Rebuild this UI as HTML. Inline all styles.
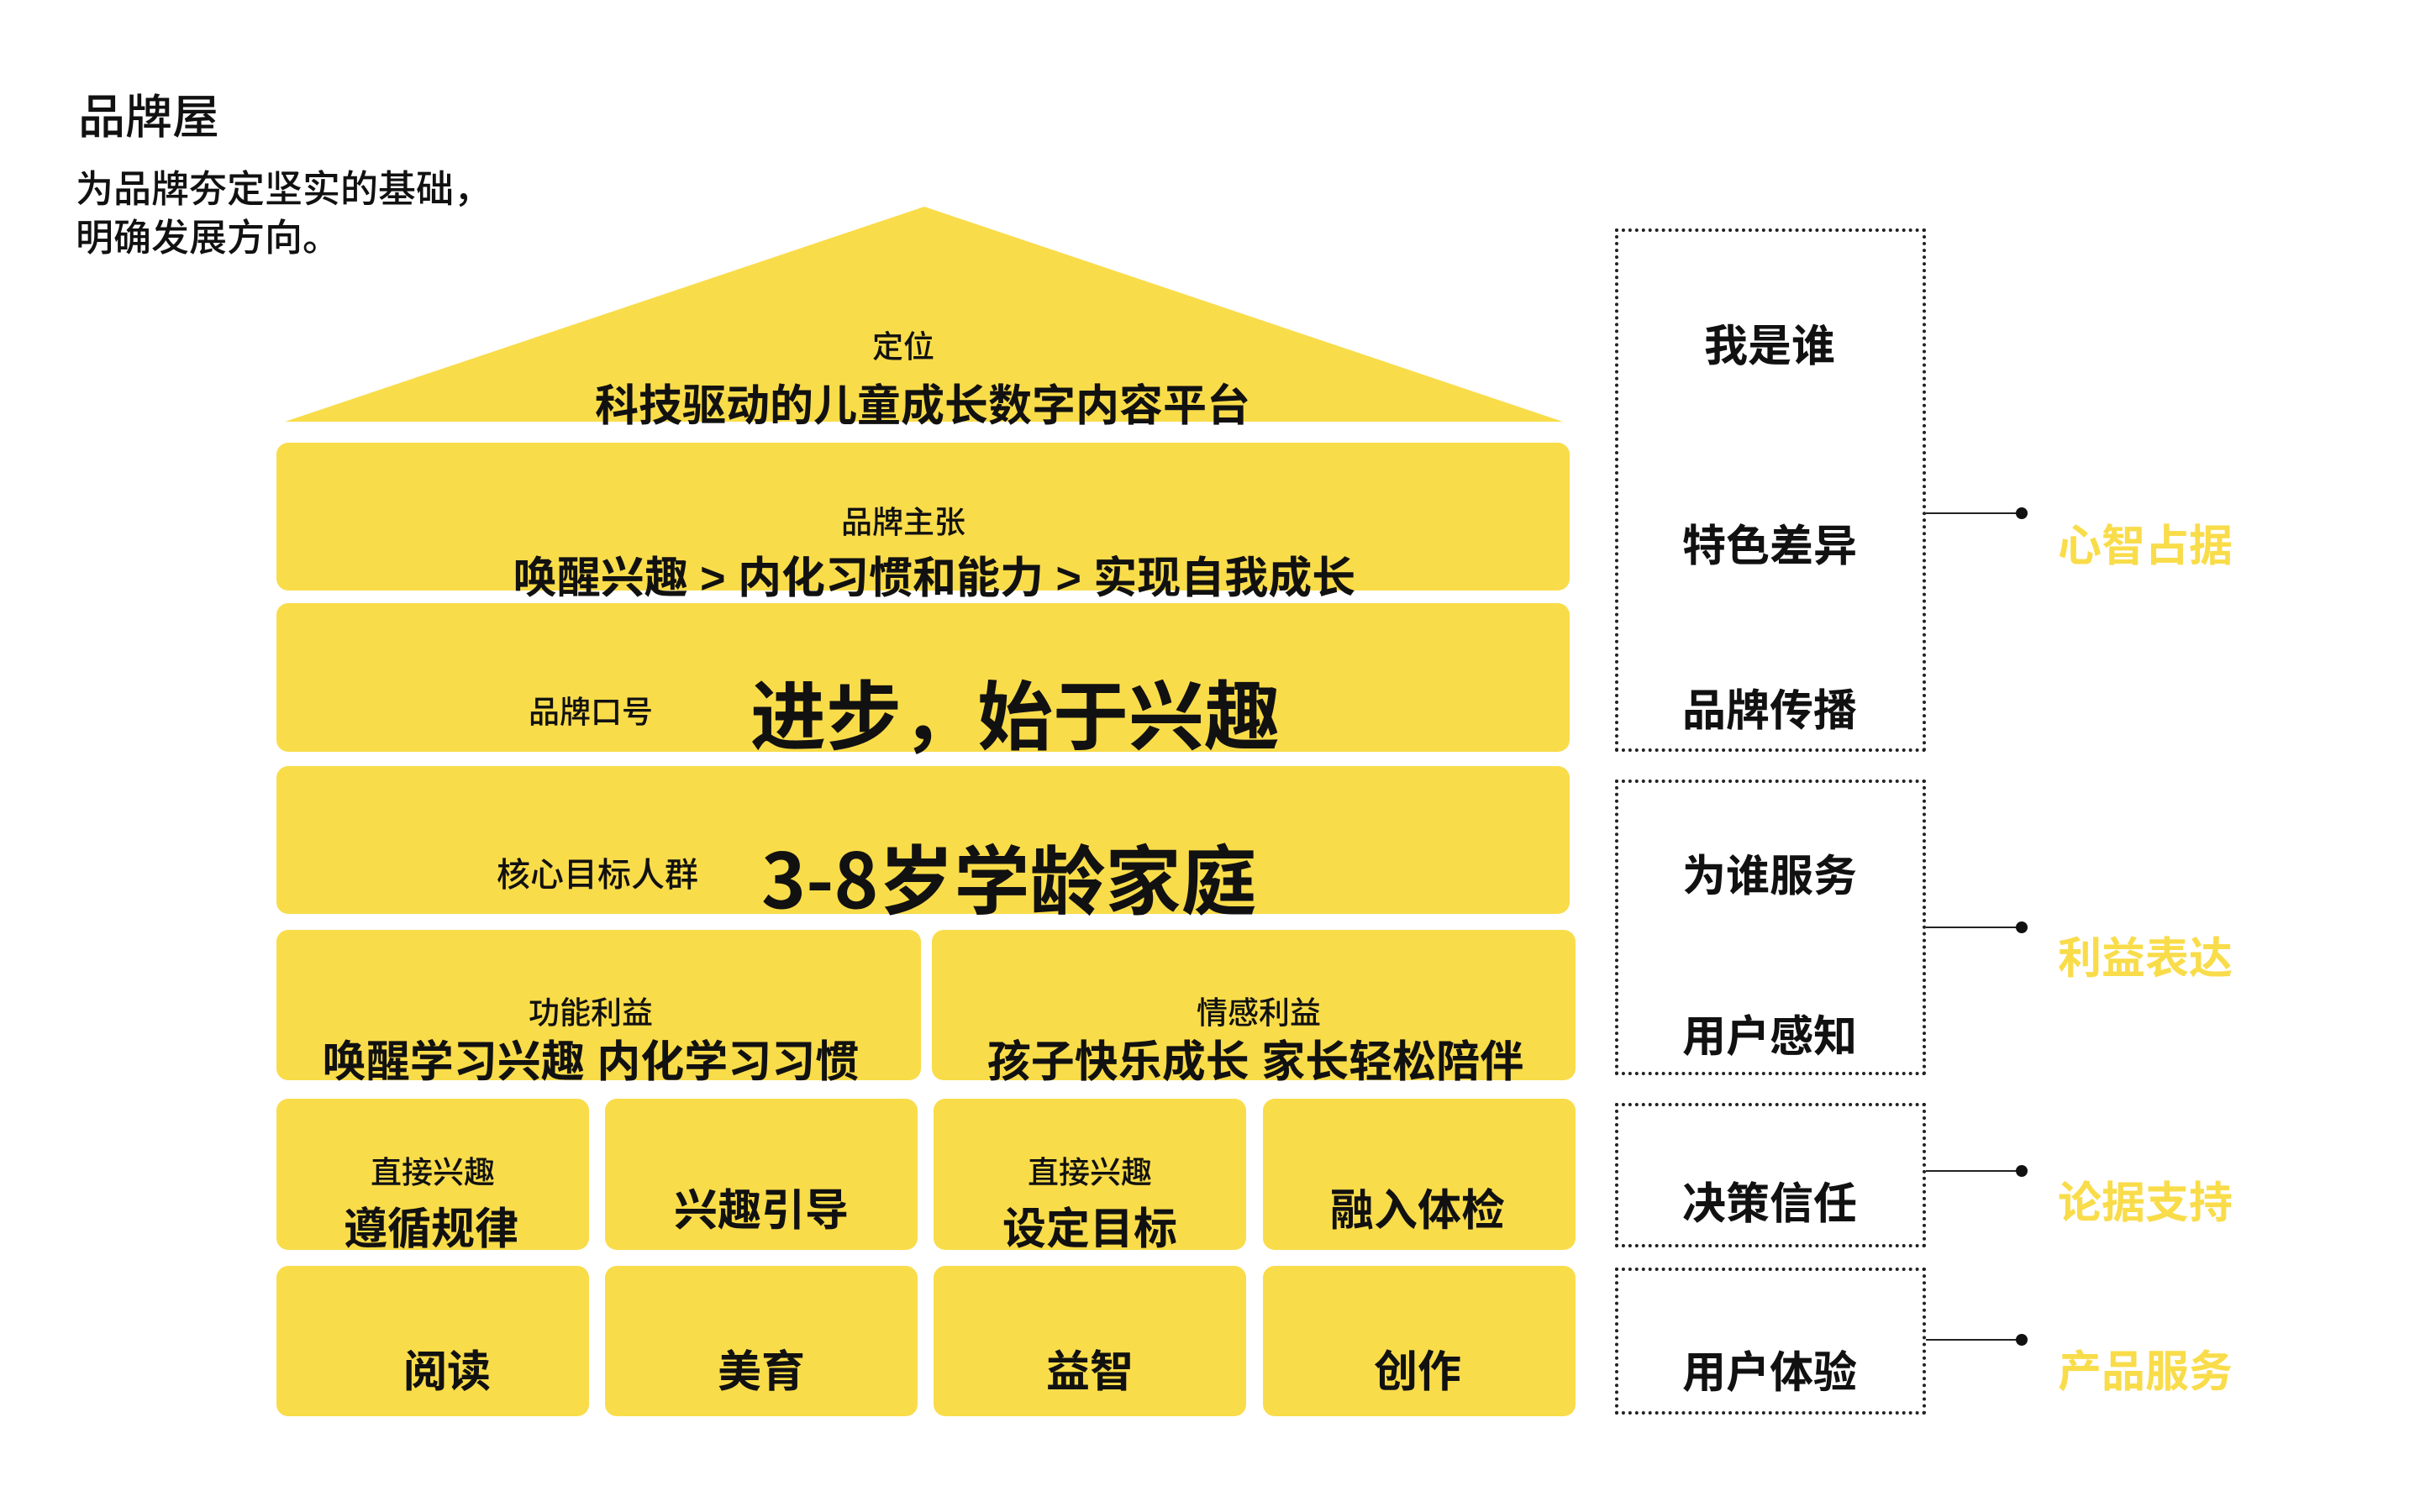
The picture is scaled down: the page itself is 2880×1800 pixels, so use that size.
<!DOCTYPE html>
<html><head><meta charset="utf-8"><style>
body{margin:0;width:2880px;height:1800px;background:#fff;position:relative;overflow:hidden;font-family:"Liberation Sans","Noto Sans CJK SC",sans-serif;font-weight:500;color:#111}
.b{position:absolute;background:#F9DC4A;border-radius:14px}
.t{position:absolute;white-space:nowrap;line-height:1;transform:translate(-50%,-50%)}
.l{position:absolute;white-space:nowrap;line-height:1;transform:translateY(-50%)}
.s{font-size:37px}.m{font-size:52px;font-weight:bold}.x{font-size:90px;font-weight:bold;font-family:"Noto Sans CJK SC",sans-serif}
.d{position:absolute;border:4px dotted #222;box-sizing:border-box}
.y{color:#F9DC4A}
.c{position:absolute;height:2px;background:#222}
.dot{position:absolute;width:14px;height:14px;border-radius:50%;background:#111}
</style></head><body>
<div class="l" style="left:93px;top:140px;font-size:56px">品牌屋</div>
<div class="l" style="left:90px;top:225px;font-size:45px">为品牌夯定坚实的基础，</div>
<div class="l" style="left:90px;top:283px;font-size:45px">明确发展方向。</div>
<svg style="position:absolute;left:0;top:0" width="2880" height="1800"><polygon points="1100,246 339,502 1860,502" fill="#F9DC4A"/></svg>
<div class="t s" style="left:1075px;top:413px">定位</div>
<div class="t m" style="left:1098px;top:484px">科技驱动的儿童成长数字内容平台</div>
<div class="b" style="left:329px;top:527px;width:1539px;height:176px"></div>
<div class="b" style="left:329px;top:718px;width:1539px;height:177px"></div>
<div class="b" style="left:329px;top:912px;width:1539px;height:176px"></div>
<div class="b" style="left:329px;top:1107px;width:767px;height:179px"></div>
<div class="b" style="left:1109px;top:1107px;width:766px;height:179px"></div>
<div class="b" style="left:329px;top:1308px;width:372px;height:180px"></div>
<div class="b" style="left:720px;top:1308px;width:372px;height:180px"></div>
<div class="b" style="left:1111px;top:1308px;width:372px;height:180px"></div>
<div class="b" style="left:1503px;top:1308px;width:372px;height:180px"></div>
<div class="b" style="left:329px;top:1507px;width:372px;height:179px"></div>
<div class="b" style="left:720px;top:1507px;width:372px;height:179px"></div>
<div class="b" style="left:1111px;top:1507px;width:372px;height:179px"></div>
<div class="b" style="left:1503px;top:1507px;width:372px;height:179px"></div>
<div class="t s" style="left:1075px;top:622px">品牌主张</div>
<div class="t m" style="left:1112px;top:689px">唤醒兴趣 &gt; 内化习惯和能力 &gt; 实现自我成长</div>
<div class="t s" style="left:703px;top:848px">品牌口号</div>
<div class="l x" style="left:893px;top:846px">进步，始于兴趣</div>
<div class="t" style="left:711px;top:1042px;font-size:40px">核心目标人群</div>
<div class="l x" style="left:906px;top:1042px">3-8岁学龄家庭</div>
<div class="t s" style="left:703px;top:1206px">功能利益</div>
<div class="t m" style="left:703px;top:1265px">唤醒学习兴趣 内化学习习惯</div>
<div class="t s" style="left:1498px;top:1206px">情感利益</div>
<div class="t m" style="left:1494px;top:1265px">孩子快乐成长 家长轻松陪伴</div>
<div class="t s" style="left:515px;top:1396px">直接兴趣</div>
<div class="t m" style="left:513px;top:1464px">遵循规律</div>
<div class="t m" style="left:906px;top:1442px">兴趣引导</div>
<div class="t s" style="left:1297px;top:1396px">直接兴趣</div>
<div class="t m" style="left:1297px;top:1464px">设定目标</div>
<div class="t m" style="left:1687px;top:1442px">融入体检</div>
<div class="t m" style="left:532px;top:1634px">阅读</div>
<div class="t m" style="left:906px;top:1634px">美育</div>
<div class="t m" style="left:1297px;top:1634px">益智</div>
<div class="t m" style="left:1687px;top:1634px">创作</div>
<div class="d" style="left:1922px;top:272px;width:370px;height:623px"></div>
<div class="d" style="left:1922px;top:928px;width:370px;height:352px"></div>
<div class="d" style="left:1922px;top:1313px;width:370px;height:172px"></div>
<div class="d" style="left:1922px;top:1509px;width:370px;height:175px"></div>
<div class="t m" style="left:2106px;top:413px">我是谁</div>
<div class="t m" style="left:2106px;top:651px">特色差异</div>
<div class="t m" style="left:2106px;top:847px">品牌传播</div>
<div class="t m" style="left:2106px;top:1044px">为谁服务</div>
<div class="t m" style="left:2106px;top:1235px">用户感知</div>
<div class="t m" style="left:2106px;top:1434px">决策信任</div>
<div class="t m" style="left:2106px;top:1635px">用户体验</div>
<div class="c" style="left:2292px;top:610px;width:114px"></div><div class="dot" style="left:2399px;top:604px"></div>
<div class="c" style="left:2292px;top:1103px;width:114px"></div><div class="dot" style="left:2399px;top:1097px"></div>
<div class="c" style="left:2292px;top:1393px;width:114px"></div><div class="dot" style="left:2399px;top:1387px"></div>
<div class="c" style="left:2292px;top:1594px;width:114px"></div><div class="dot" style="left:2399px;top:1588px"></div>
<div class="t m y" style="left:2553px;top:651px">心智占据</div>
<div class="t m y" style="left:2553px;top:1142px">利益表达</div>
<div class="t m y" style="left:2553px;top:1433px">论据支持</div>
<div class="t m y" style="left:2553px;top:1634px">产品服务</div>
</body></html>
